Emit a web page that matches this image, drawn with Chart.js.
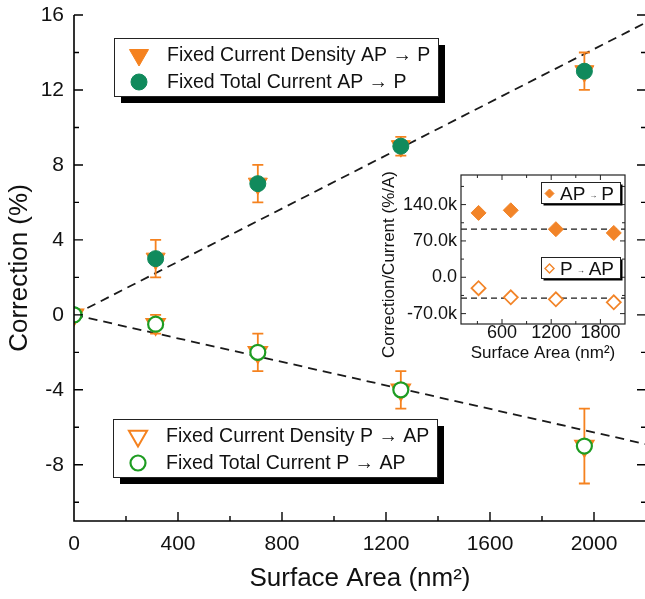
<!DOCTYPE html>
<html>
<head>
<meta charset="utf-8">
<title>Correction vs Surface Area</title>
<script src="https://cdn.jsdelivr.net/npm/chart.js@4.4.1/dist/chart.umd.min.js"></script>
<style>
  html, body { margin: 0; padding: 0; background: #fff; overflow: hidden; }
  #wrap { position: relative; width: 645px; height: 599px; overflow: hidden; background: #fff; }
  #main { position: absolute; left: 0; top: 0; }
  #inset { position: absolute; left: 372px; top: 150px; }
</style>
</head>
<body>
<div id="wrap">
  <canvas id="main" width="648" height="599" style="width:648px;height:599px"></canvas>
  <canvas id="inset" width="262" height="215" style="width:262px;height:215px"></canvas>
</div>
<script>
// ---------- data: main panel ----------
const surfaceArea      = [0, 314, 707, 1257, 1963];      // nm²
const densityAPtoP     = [0, 3, 7, 9, 13];               // % (fixed current density)
const densityAPtoPErr  = [0, 1, 1, 0.5, 1];
const totalAPtoP       = [0, 3, 7, 9, 13];               // % (fixed total current)
const densityPtoAP     = [0, -0.5, -2, -4, -7];
const densityPtoAPErr  = [0, 0.5, 1, 1, 2];
const totalPtoAP       = [0, -0.5, -2, -4, -7];
const fitLineX         = [0, 2200];
const fitLineAPtoP     = [0, 15.6];
const fitLinePtoAP     = [0, -6.9];
const mainXTicks       = [0, 400, 800, 1200, 1600, 2000];
const mainYTicks       = [-8, -4, 0, 4, 8, 12, 16];

// ---------- data: inset (correction per current, %/A) ----------
const insetArea        = [314, 707, 1257, 1963];
const perCurrentAPtoP  = [124000, 129000, 92600, 85400];
const perCurrentPtoAP  = [-21000, -38600, -42400, -48200];
const insetFitX        = [100, 2100];
const insetFitAPtoP    = [92600, 92600];
const insetFitPtoAP    = [-40000, -40000];
const insetXTicks      = [600, 1200, 1800];
const insetYTicks      = [-70000, 0, 70000, 140000];

// ---------- styling ----------
const FONT = '"Liberation Sans", Arial, Helvetica, sans-serif';
Chart.defaults.font.family = FONT;
Chart.defaults.color = '#111';

const ORANGE = '#F5821F';
const GREEN_DARK = '#108A5C';
const GREEN = '#1E9C22';
const INSET_ORANGE = '#F28428';

const markers = {
  densityAP:  { shape: 'triangle', rotation: 180, radius: 11,   fill: ORANGE,       stroke: ORANGE,       width: 1 },
  totalAP:    { shape: 'circle',   rotation: 0,   radius: 8,    fill: GREEN_DARK,   stroke: GREEN_DARK,   width: 1 },
  densityPAP: { shape: 'triangle', rotation: 180, radius: 10.5, fill: '#fff',       stroke: ORANGE,       width: 2 },
  totalPAP:   { shape: 'circle',   rotation: 0,   radius: 7.5,  fill: '#fff',       stroke: GREEN,        width: 2.2 },
  insetAP:    { shape: 'rectRot',  rotation: 0,   radius: 7.5,  fill: INSET_ORANGE, stroke: INSET_ORANGE, width: 1 },
  insetPAP:   { shape: 'rectRot',  rotation: 0,   radius: 7,    fill: '#fff',       stroke: INSET_ORANGE, width: 1.8 },
  keyAP:      { shape: 'rectRot',  rotation: 0,   radius: 4.5,  fill: INSET_ORANGE, stroke: INSET_ORANGE, width: 1 },
  keyPAP:     { shape: 'rectRot',  rotation: 0,   radius: 4.5,  fill: '#fff',       stroke: INSET_ORANGE, width: 1.4 }
};

const pts = (xs, ys) => xs.map((x, i) => ({ x, y: ys[i] }));

function markerDataset(label, xs, ys, m, order, extra) {
  return Object.assign({
    label, data: pts(xs, ys), order, clip: 0, showLine: false,
    pointStyle: m.shape, pointRotation: m.rotation, pointRadius: m.radius,
    pointBackgroundColor: m.fill, pointBorderColor: m.stroke, pointBorderWidth: m.width,
    backgroundColor: m.fill, borderColor: m.stroke
  }, extra || {});
}

function dashedDataset(xs, ys, width, dash) {
  return {
    data: pts(xs, ys), order: 9, clip: 0, showLine: true, pointRadius: 0,
    borderColor: '#1a1a1a', borderWidth: width, borderDash: dash, fill: false
  };
}

// same geometry as the library's point shapes, used for legend keys
function drawMarker(ctx, m, x, y) {
  ctx.save();
  ctx.fillStyle = m.fill; ctx.strokeStyle = m.stroke; ctx.lineWidth = m.width;
  ctx.beginPath();
  const r = m.radius;
  if (m.shape === 'circle') {
    ctx.arc(x, y, r, 0, Math.PI * 2);
  } else if (m.shape === 'triangle') {
    let a = m.rotation * Math.PI / 180;
    for (let k = 0; k < 3; k++) {
      const px = x + Math.sin(a) * r, py = y - Math.cos(a) * r;
      k ? ctx.lineTo(px, py) : ctx.moveTo(px, py);
      a += 2 * Math.PI / 3;
    }
    ctx.closePath();
  } else {
    ctx.moveTo(x - r, y); ctx.lineTo(x, y - r); ctx.lineTo(x + r, y); ctx.lineTo(x, y + r); ctx.closePath();
  }
  ctx.fill();
  if (m.width > 0) ctx.stroke();
  ctx.restore();
}

function fixedTicks(values) {
  return scale => { scale.ticks = values.map(v => ({ value: v })); };
}
function noEdgePadding(scale) {
  scale.paddingTop = 0; scale.paddingBottom = 0; scale.paddingLeft = 0; scale.paddingRight = 0;
}

// ---------- main panel decorations: error bars, axes, inward ticks, legends ----------
function drawKeyBox(ctx, x, y, rows) {
  ctx.save();
  ctx.font = '19.5px ' + FONT;
  let w = 0;
  rows.forEach(r => { w = Math.max(w, ctx.measureText(r.text).width); });
  const bw = Math.round(53 + w + 8), bh = 58;
  ctx.fillStyle = '#000';
  ctx.fillRect(x + 7, y + 7, bw, bh);
  ctx.fillStyle = '#fff';
  ctx.fillRect(x, y, bw, bh);
  ctx.strokeStyle = '#222'; ctx.lineWidth = 1;
  ctx.strokeRect(x + 0.5, y + 0.5, bw, bh);
  rows.forEach((r, i) => {
    const cy = y + 17 + i * 27;
    drawMarker(ctx, r.marker, x + 25, cy);
    ctx.fillStyle = '#111'; ctx.textBaseline = 'middle'; ctx.textAlign = 'left';
    ctx.fillText(r.text, x + 53, cy + 1);
  });
  ctx.restore();
}

const mainDecor = {
  id: 'mainDecor',
  beforeDatasetDraw(chart, args) {
    const ds = chart.data.datasets[args.index];
    if (!ds.errorBars) return;
    const { ctx, scales: { x, y } } = chart;
    ctx.save();
    ctx.strokeStyle = ds.borderColor; ctx.lineWidth = 1.8;
    ds.data.forEach((p, i) => {
      const e = ds.errorBars[i];
      if (!e) return;
      const px = x.getPixelForValue(p.x);
      const top = y.getPixelForValue(p.y + e), bot = y.getPixelForValue(p.y - e);
      ctx.beginPath();
      ctx.moveTo(px, top); ctx.lineTo(px, bot);
      ctx.moveTo(px - 5.5, top); ctx.lineTo(px + 5.5, top);
      ctx.moveTo(px - 5.5, bot); ctx.lineTo(px + 5.5, bot);
      ctx.stroke();
    });
    ctx.restore();
  },
  afterDatasetsDraw(chart) {
    const { ctx, chartArea: a, scales: { x, y } } = chart;
    ctx.save();
    ctx.strokeStyle = '#000'; ctx.lineWidth = 1.6;
    ctx.beginPath();
    ctx.moveTo(a.left, a.top); ctx.lineTo(a.left, a.bottom); ctx.lineTo(a.right, a.bottom);
    ctx.stroke();
    ctx.lineWidth = 1.4;
    ctx.beginPath();
    for (let v = -10; v <= 16; v += 2) {
      const py = y.getPixelForValue(v);
      const len = mainYTicks.includes(v) ? 9 : 5;
      ctx.moveTo(a.left, py); ctx.lineTo(a.left + len, py);
      ctx.moveTo(a.right, py); ctx.lineTo(a.right - len, py);
    }
    for (let v = 200; v <= 2000; v += 200) {
      const px = x.getPixelForValue(v);
      const len = mainXTicks.includes(v) ? 9 : 5;
      ctx.moveTo(px, a.bottom); ctx.lineTo(px, a.bottom - len);
    }
    ctx.stroke();
    ctx.restore();

    drawKeyBox(ctx, 114, 38, [
      { marker: markers.densityAP, text: 'Fixed Current Density AP \u2192 P' },
      { marker: markers.totalAP,   text: 'Fixed Total Current AP \u2192 P' }
    ]);
    drawKeyBox(ctx, 113, 419, [
      { marker: markers.densityPAP, text: 'Fixed Current Density P \u2192 AP' },
      { marker: markers.totalPAP,   text: 'Fixed Total Current P \u2192 AP' }
    ]);
  }
};

new Chart(document.getElementById('main'), {
  type: 'scatter',
  data: {
    datasets: [
      markerDataset('Fixed Total Current P \u2192 AP', surfaceArea, totalPtoAP, markers.totalPAP, 1),
      markerDataset('Fixed Current Density P \u2192 AP', surfaceArea, densityPtoAP, markers.densityPAP, 2, { errorBars: densityPtoAPErr }),
      markerDataset('Fixed Total Current AP \u2192 P', surfaceArea, totalAPtoP, markers.totalAP, 3),
      markerDataset('Fixed Current Density AP \u2192 P', surfaceArea, densityAPtoP, markers.densityAP, 4, { errorBars: densityAPtoPErr }),
      dashedDataset(fitLineX, fitLineAPtoP, 1.8, [9, 6]),
      dashedDataset(fitLineX, fitLinePtoAP, 1.8, [9, 6])
    ]
  },
  options: {
    responsive: false, animation: false, events: [],
    layout: { autoPadding: false, padding: { top: 15, right: 2, bottom: 0, left: 0 } },
    plugins: { legend: { display: false }, tooltip: { enabled: false } },
    scales: {
      x: {
        type: 'linear', position: 'bottom', min: 0, max: 2200,
        afterBuildTicks: fixedTicks(mainXTicks),
        afterFit(s) { s.height = 78; noEdgePadding(s); },
        grid: { display: false, drawTicks: false }, border: { display: false },
        ticks: { autoSkip: false, maxRotation: 0, padding: 11, color: '#111', font: { size: 21 }, callback: v => String(v) },
        title: { display: true, text: 'Surface Area (nm\u00B2)', color: '#111', font: { size: 26 }, padding: { top: 0, bottom: 5 } }
      },
      y: {
        type: 'linear', position: 'left', min: -11, max: 16,
        afterBuildTicks: fixedTicks(mainYTicks),
        afterFit(s) { s.width = 74; noEdgePadding(s); },
        grid: { display: false, drawTicks: false }, border: { display: false },
        ticks: { autoSkip: false, padding: 10, color: '#111', font: { size: 21 }, callback: v => String(v) },
        title: { display: true, text: 'Correction (%)', color: '#111', font: { size: 26 }, padding: { top: 4, bottom: 0 } }
      }
    }
  },
  plugins: [mainDecor]
});

// ---------- inset ----------
function drawInsetKey(ctx, x, y, parts, m) {
  ctx.save();
  const big = '19px ' + FONT, small = '8px ' + FONT;
  ctx.font = big; const w0 = ctx.measureText(parts[0]).width;
  ctx.font = small; const w1 = ctx.measureText(parts[1]).width;
  ctx.font = big; const w2 = ctx.measureText(parts[2]).width;
  const bw = Math.round(19 + w0 + 4 + w1 + 4 + w2 + 6), bh = 21;
  ctx.fillStyle = '#000';
  ctx.fillRect(x + 2.5, y + 2.5, bw, bh);
  ctx.fillStyle = '#fff';
  ctx.fillRect(x, y, bw, bh);
  ctx.strokeStyle = '#222'; ctx.lineWidth = 1;
  ctx.strokeRect(x + 0.5, y + 0.5, bw, bh);
  const cy = y + bh / 2 + 1;
  drawMarker(ctx, m, x + 8.5, cy);
  ctx.fillStyle = '#111'; ctx.textBaseline = 'middle'; ctx.textAlign = 'left';
  let tx = x + 19;
  ctx.font = big; ctx.fillText(parts[0], tx, cy + 1); tx += w0 + 4;
  ctx.font = small; ctx.fillText(parts[1], tx, cy + 2); tx += w1 + 4;
  ctx.font = big; ctx.fillText(parts[2], tx, cy + 1);
  ctx.restore();
}

const insetDecor = {
  id: 'insetDecor',
  afterDatasetsDraw(chart) {
    const { ctx, chartArea: a, scales: { x, y } } = chart;
    ctx.save();
    ctx.strokeStyle = '#222'; ctx.lineWidth = 1.2;
    ctx.strokeRect(a.left, a.top, a.right - a.left, a.bottom - a.top);
    ctx.lineWidth = 1;
    ctx.beginPath();
    for (let v = -70000; v <= 175000; v += 35000) {
      const py = y.getPixelForValue(v);
      const len = insetYTicks.includes(v) ? 5 : 3;
      ctx.moveTo(a.left, py); ctx.lineTo(a.left + len, py);
      ctx.moveTo(a.right, py); ctx.lineTo(a.right - len, py);
    }
    for (let v = 300; v <= 1800; v += 300) {
      const px = x.getPixelForValue(v);
      const len = insetXTicks.includes(v) ? 5 : 3;
      ctx.moveTo(px, a.bottom); ctx.lineTo(px, a.bottom - len);
      ctx.moveTo(px, a.top); ctx.lineTo(px, a.top + len);
    }
    ctx.stroke();

    // vertical axis title, set a little below the frame's centre
    ctx.translate(a.left - 72, (a.top + a.bottom) / 2 + 15);
    ctx.rotate(-Math.PI / 2);
    ctx.font = '17px ' + FONT; ctx.fillStyle = '#111';
    ctx.textAlign = 'center'; ctx.textBaseline = 'middle';
    ctx.fillText('Correction/Current (%/A)', 0, 0);
    ctx.restore();

    drawInsetKey(ctx, a.left + 80, a.top + 7, ['AP', '\u2192', 'P'], markers.keyAP);
    drawInsetKey(ctx, a.left + 80, a.top + 82, ['P', '\u2192', 'AP'], markers.keyPAP);
  }
};

new Chart(document.getElementById('inset'), {
  type: 'scatter',
  data: {
    datasets: [
      markerDataset('AP \u2192 P', insetArea, perCurrentAPtoP, markers.insetAP, 1),
      markerDataset('P \u2192 AP', insetArea, perCurrentPtoAP, markers.insetPAP, 1),
      dashedDataset(insetFitX, insetFitAPtoP, 1.3, [6, 4]),
      dashedDataset(insetFitX, insetFitPtoAP, 1.3, [6, 4])
    ]
  },
  options: {
    responsive: false, animation: false, events: [],
    layout: { autoPadding: false, padding: { top: 25, right: 9, bottom: 0, left: 0 } },
    plugins: { legend: { display: false }, tooltip: { enabled: false } },
    scales: {
      x: {
        type: 'linear', position: 'bottom', min: 100, max: 2100,
        afterBuildTicks: fixedTicks(insetXTicks),
        afterFit(s) { s.height = 41; noEdgePadding(s); },
        grid: { display: false, drawTicks: false }, border: { display: false },
        ticks: { autoSkip: false, maxRotation: 0, padding: 0, color: '#111', font: { size: 18, lineHeight: 1 }, callback: v => String(v) },
        title: { display: true, text: 'Surface Area (nm\u00B2)', color: '#111', font: { size: 17 }, padding: { top: 0, bottom: 1 } }
      },
      y: {
        type: 'linear', position: 'left', min: -90000, max: 197000,
        afterBuildTicks: fixedTicks(insetYTicks),
        afterFit(s) { s.width = 89; noEdgePadding(s); },
        grid: { display: false, drawTicks: false }, border: { display: false },
        ticks: { autoSkip: false, padding: 4, color: '#111', font: { size: 18 },
                 callback: v => v === 0 ? '0.0' : (v / 1000).toFixed(1) + 'k' },
        title: { display: false }
      }
    }
  },
  plugins: [insetDecor]
});
</script>
</body>
</html>
